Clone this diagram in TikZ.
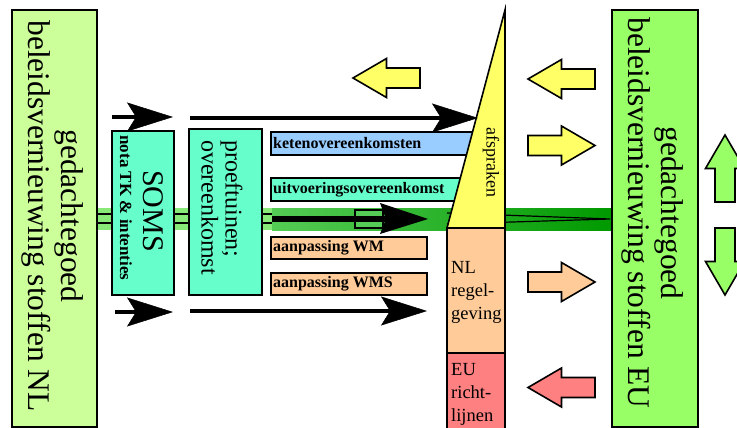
\documentclass[tikz,border=0pt]{standalone}
\usepackage{fontspec}
\setmainfont{Liberation Serif}
\usetikzlibrary{arrows.meta}

\definecolor{boxNL}{HTML}{CCFF99}
\definecolor{boxEU}{HTML}{99FF66}
\definecolor{aqua}{HTML}{66FFCC}
\definecolor{skyb}{HTML}{99CCFF}
\definecolor{peach}{HTML}{FFCC99}
\definecolor{salmon}{HTML}{FF8080}
\definecolor{lemon}{HTML}{FFFF66}
\definecolor{bandlt}{HTML}{88E878}
\definecolor{bandmid}{HTML}{55CC55}
\definecolor{banddk}{HTML}{009900}

\tikzset{
  panel/.style={draw=black, line width=1.6pt, inner sep=0pt},
  bigtext/.style={rotate=-90, align=center, inner sep=0pt,
    font=\fontsize{31.5}{33}\selectfont},
  smalllabel/.style={anchor=west, inner sep=0pt,
    font=\fontsize{16}{18}\selectfont\bfseries},
  sidetext/.style={anchor=north west, align=left, inner sep=0pt,
    font=\fontsize{18.5}{23}\selectfont},
  flowarrow/.style={line width=4pt,
    -{Stealth[length=46pt,width=29pt,inset=9pt,line width=0.5pt]}},
  pics/blockarrow/.style={code={
    \draw[pic actions] (-33.5,-10) -- (0,-10) -- (0,-19.5) -- (33.5,0)
      -- (0,19.5) -- (0,10) -- (-33.5,10) -- cycle;}}
}

\begin{document}
\begin{tikzpicture}[x=1pt,y=-1pt,line join=miter]
\useasboundingbox (0,0) rectangle (737,428);

% green band running through the chain
\fill[bandlt] (97,208) rectangle (272,230);
\shade[left color=bandmid, right color=banddk] (272,208) rectangle (612,230);
\draw[line width=2pt] (97,214) -- (272,214);
\draw[line width=2pt] (97,223) -- (272,223);
\draw[line width=1.2pt] (447,213) -- (610,219) -- (447,224);

% horizontal label bars
\node[panel, fill=skyb, minimum width=219pt, minimum height=23pt] (keten) at (380.5,143.5) {};
\node[panel, fill=aqua, minimum width=219pt, minimum height=23pt] (uitv) at (380.5,189.5) {};
\node[panel, fill=peach, minimum width=156pt, minimum height=22pt] (wm) at (349,248) {};
\node[panel, fill=peach, minimum width=156pt, minimum height=22pt] (wms) at (349,284) {};
\node[smalllabel] (ketentxt) at (273,143.5) {ketenovereenkomsten};
\node[smalllabel] (uitvtxt) at (273,189.5) {uitvoeringsovereenkomst};
\node[smalllabel] (wmtxt) at (273,248) {aanpassing WM};
\node[smalllabel] (wmstxt) at (273,284) {aanpassing WMS};

% arrow along the band
\draw[line width=1.5pt, fill=bandmid] (355,210) rectangle (383,228);
\draw[line width=6pt] (272,219) -- (405,219);
\fill (380,203) -- (428,219) -- (380,234) -- (386,219) -- cycle;

% agreements wedge and regulation column
\draw[line width=1.6pt, fill=lemon] (505,10) -- (505,228) -- (447,228) -- cycle;
\node[rotate=-90, inner sep=0pt, font=\fontsize{18}{20}\selectfont] (afspr) at (491,162.5) {afspraken};
\node[panel, fill=peach, minimum width=58pt, minimum height=125pt] (nlreg) at (476,290.5) {};
\node[panel, fill=salmon, minimum width=58pt, minimum height=80pt] (eurl) at (476,393) {};
\node[sidetext] (nlregtxt) at (451,261) {NL\\regel-\\geving};
\node[sidetext] (eurltxt) at (451,363) {EU\\richt-\\lijnen};

% main boxes
\node[panel, fill=boxNL, minimum width=85pt, minimum height=417pt] (nlbox) at (54.5,218.5) {};
\node[panel, fill=boxEU, minimum width=86pt, minimum height=417pt] (eubox) at (655,218.5) {};
\node[panel, fill=aqua, minimum width=62pt, minimum height=164pt] (soms) at (143,213) {};
\node[panel, fill=aqua, minimum width=73pt, minimum height=166pt] (proef) at (225.5,212) {};

\node[bigtext] (nltxt) at (53,216) {gedachtegoed\\beleidsvernieuwing stoffen NL};
\node[bigtext] (eutxt) at (652.5,213) {gedachtegoed\\beleidsvernieuwing stoffen EU};
\node[rotate=-90, inner sep=0pt, font=\fontsize{30}{30}\selectfont] (somstxt) at (153,211) {SOMS};
\node[rotate=-90, inner sep=0pt, font=\fontsize{17}{18}\selectfont\bfseries] (notatxt) at (126,208) {nota TK \& intenties};
\node[rotate=-90, align=left, inner sep=0pt, font=\fontsize{24}{24}\selectfont] (proeftxt) at (222,207.5) {proeftuinen;\\overeenkomst};

% flow arrows
\coordinate (a1s) at (112,117); \coordinate (a1e) at (173,117);
\coordinate (a2s) at (190,118); \coordinate (a2e) at (478,118);
\coordinate (a3s) at (115,312); \coordinate (a3e) at (173,312);
\coordinate (a4s) at (190,311); \coordinate (a4e) at (427,311);
\draw[flowarrow] (a1s) -- (a1e);
\draw[flowarrow] (a2s) -- (a2e);
\draw[flowarrow] (a3s) -- (a3e);
\draw[flowarrow] (a4s) -- (a4e);

% block arrows
\pic[fill=lemon, draw=black, line width=1.6pt, rotate=180] (yl0) at (386.5,78) {blockarrow};
\pic[fill=lemon, draw=black, line width=1.6pt, rotate=180] (yl1) at (561.5,79) {blockarrow};
\pic[fill=lemon, draw=black, line width=1.6pt] (yr1) at (561.5,145.5) {blockarrow};
\pic[fill=peach, draw=black, line width=1.6pt] (or1) at (561.5,282) {blockarrow};
\pic[fill=salmon, draw=black, line width=1.6pt, rotate=180] (rl1) at (561.5,387.5) {blockarrow};
\pic[fill=boxEU, draw=black, line width=1.6pt, rotate=90] (gu1) at (725,168.5) {blockarrow};
\pic[fill=boxEU, draw=black, line width=1.6pt, rotate=-90] (gd1) at (725,261.5) {blockarrow};
\end{tikzpicture}
\end{document}
